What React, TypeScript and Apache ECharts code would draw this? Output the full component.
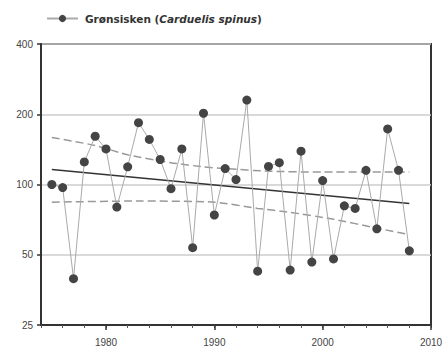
import React, { useEffect, useRef } from "react";
import * as echarts from "echarts";

const seriesName = "Grønsisken (Carduelis spinus)";
const years = [
  1975, 1976, 1977, 1978, 1979, 1980, 1981, 1982, 1983, 1984, 1985, 1986,
  1987, 1988, 1989, 1990, 1991, 1992, 1993, 1994, 1995, 1996, 1997, 1998,
  1999, 2000, 2001, 2002, 2003, 2004, 2005, 2006, 2007, 2008,
];
const indexValues = [
  100, 97, 39.5, 125, 161, 142, 80, 119, 184, 156, 128, 96,
  142, 53.6, 202, 74, 117, 105, 230, 42.5, 119.5, 124, 43, 139,
  46.5, 104, 48, 81, 79, 115, 64.6, 173, 115, 52,
];
const trendYears = [1975, 2008];
const trendValues = [116, 83];
const upperYears = [1975, 1979, 1982, 1986, 1989, 1991, 1995, 2000, 2008];
const upperValues = [159, 147, 134, 124, 119, 117, 114, 113, 113];
const lowerYears = [1975, 1983, 1990, 1994, 1997, 2001, 2005, 2008];
const lowerValues = [84, 85, 84, 79, 76, 71, 65, 61];

const BASE = 25;
const t = (v: number) => Math.log2(v / BASE);
const pairs = (xs: number[], vs: number[]) => xs.map((x, i) => [x, t(vs[i])]);

const decadeCats: string[] = [];
for (let y = 1974; y <= 2010; y++) decadeCats.push(String(y));

export default function App() {
  const ref = useRef<HTMLDivElement>(null);
  useEffect(() => {
    if (!ref.current) return;
    const chart = echarts.init(ref.current, undefined, { renderer: "svg" });
    const font = "'Liberation Sans', Arial, sans-serif";
    const legendFont = "'DejaVu Sans', sans-serif";
    chart.setOption({
      animation: false,
      textStyle: { fontFamily: font },
      legend: {
        data: [seriesName],
        left: 41,
        top: 8,
        itemWidth: 31,
        itemHeight: 9,
        formatter: () => "{b|Grønsisken (}{i|Carduelis spinus}{b|)}",
        textStyle: {
          padding: [0, 0, 0, 2],
          rich: {
            b: { fontWeight: "bold", fontSize: 10.5, color: "#333", fontFamily: legendFont },
            i: { fontWeight: "bold", fontStyle: "italic", fontSize: 10.5, color: "#333", fontFamily: legendFont },
          },
        },
      },
      grid: {
        left: 41,
        top: 44,
        right: 15,
        bottom: 29,
        show: true,
        borderColor: "#333",
        borderWidth: 2,
        containLabel: false,
      },
      xAxis: [
        {
          type: "value",
          min: 1974,
          max: 2010,
          interval: 2,
          axisLine: { show: true, lineStyle: { color: "#333", width: 2 } },
          axisTick: { show: true, length: 3, lineStyle: { color: "#555", width: 1 } },
          axisLabel: {
            formatter: (v: number) => (v % 10 === 0 ? String(v) : ""),
            color: "#444",
            fontSize: 10,
            margin: 12,
          },
          splitLine: { show: false },
        },
        {
          type: "category",
          data: decadeCats,
          boundaryGap: false,
          position: "bottom",
          axisLine: { show: false },
          axisLabel: { show: false },
          axisTick: {
            show: true,
            length: 5,
            interval: (i: number, v: string) => Number(v) % 10 === 0,
            lineStyle: { color: "#333", width: 1.5 },
          },
          splitLine: { show: false },
        },
      ],
      yAxis: {
        type: "value",
        min: 0,
        max: 4,
        interval: 1,
        axisLine: { show: true, lineStyle: { color: "#333", width: 2 } },
        axisTick: { show: true, length: 4, lineStyle: { color: "#333", width: 1.5 } },
        axisLabel: {
          formatter: (v: number) => String(Math.round(BASE * Math.pow(2, v))),
          color: "#444",
          fontSize: 10,
          margin: 8,
        },
        splitLine: { show: true, lineStyle: { color: "#ccc", width: 1.5 } },
      },
      series: [
        {
          name: seriesName,
          type: "line",
          data: pairs(years, indexValues),
          symbol: "circle",
          symbolSize: 9,
          itemStyle: { color: "#444" },
          lineStyle: { color: "#aaa", width: 1 },
          z: 5,
        },
        {
          name: "trend",
          type: "line",
          data: pairs(trendYears, trendValues),
          symbol: "none",
          lineStyle: { color: "#333", width: 1.5 },
          z: 3,
        },
        {
          name: "upper",
          type: "line",
          data: pairs(upperYears, upperValues),
          symbol: "none",
          smooth: 0.2,
          lineStyle: { color: "#999", width: 1.5, type: [8, 4] },
          z: 3,
        },
        {
          name: "lower",
          type: "line",
          data: pairs(lowerYears, lowerValues),
          symbol: "none",
          smooth: 0.2,
          lineStyle: { color: "#999", width: 1.5, type: [8, 4] },
          z: 3,
        },
      ],
    });
    return () => chart.dispose();
  }, []);
  return <div ref={ref} style={{ width: 446, height: 354, position: "absolute", left: 0, top: 0 }} />;
}
